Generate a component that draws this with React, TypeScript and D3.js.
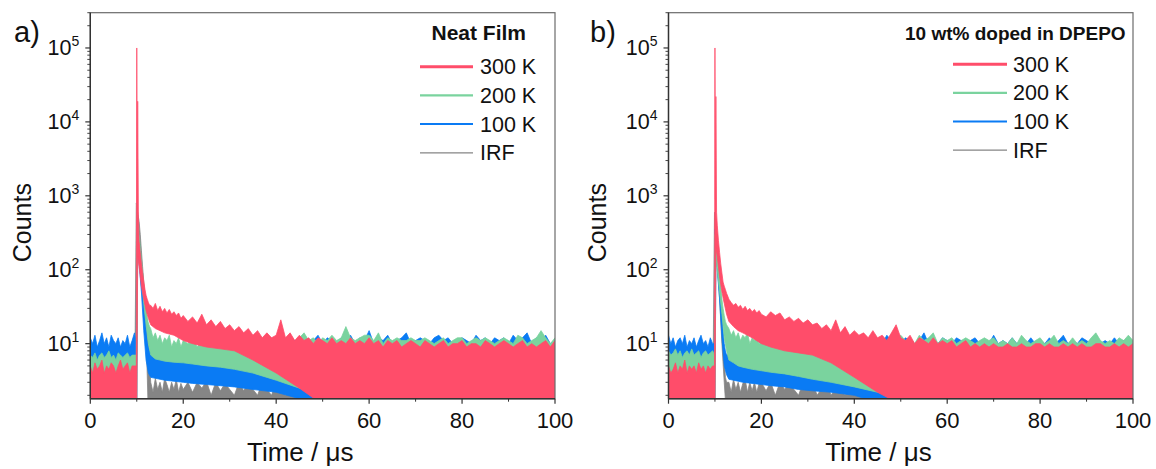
import React from 'react';
import * as d3 from 'd3';

// ---------- shared grids ----------
const T_HI = [
  0, 0.5, 1, 1.5, 2, 2.5, 3, 3.5, 4, 4.5, 5, 5.5, 6, 6.5, 7, 7.5, 8, 8.5, 9, 9.5,
  9.9, 10, 10.1, 10.2, 10.35, 10.5, 10.75, 11, 11.25, 11.5, 11.75, 12, 12.25, 12.5, 12.75,
  13, 13.5, 14, 14.5, 15, 15.5, 16, 16.5, 17, 17.5, 18, 18.5, 19, 19.5,
  20, 21, 22, 23, 24, 25, 26, 27, 28, 29,
  30, 31, 32, 33, 34, 35, 36, 37, 38, 39,
  40, 41, 42, 43, 44, 45, 46, 47, 48, 49,
  50, 51, 52, 53, 54, 55, 56, 57, 58, 59,
  60, 61, 62, 63, 64, 65, 66, 67, 68, 69,
  70, 71, 72, 73, 74, 75, 76, 77, 78, 79,
  80, 81, 82, 83, 84, 85, 86, 87, 88, 89,
  90, 91, 92, 93, 94, 95, 96, 97, 98, 99,
  100,
];
const T_LO = [0, 9.9, 10, 10.2, 10.5, 11, 11.5, 12, 12.5, 13, 14, 15, 16, 18, 20, 22, 25, 28, 31, 35, 40, 45, 50, 60, 70, 80, 90, 100];

const SERIES_NAMES = ['300 K', '200 K', '100 K', 'IRF'];
const SERIES_COLORS = ['#FF4D6A', '#7AD39E', '#0A7BF4', '#858585'];
const LEGEND_WIDTHS = [3, 2.4, 2, 1.2];
const X_TICKS = [0, 20, 40, 60, 80, 100];
const X_MINOR = [10, 30, 50, 70, 90];
const Y_MAJOR = [10, 100, 1000, 10000, 100000];
const Y_EXP = ['1', '2', '3', '4', '5'];
const Y_MINOR_MULT = [2, 3, 4, 5, 6, 7, 8, 9];
const Y_DECADES = [1, 10, 100, 1000, 10000, 100000];
const Y_DOMAIN: [number, number] = [1.8, 3e5];

// ---------- panel a) Neat Film ----------
const A_RED_HI = [
  5, 4, 5.5, 4.5, 5, 6, 4, 5, 4.5, 5.5, 5, 4, 5, 6, 4.5, 5, 5.5, 4, 5, 5,
  5, 100000, 800, 19000, 500, 240, 170, 120, 90, 70, 55, 45, 40, 36, 33,
  33, 30, 35, 28, 32, 27, 30, 26, 29, 25, 27, 24, 26, 22,
  24, 20, 23, 19, 25, 18, 21, 17, 20, 16,
  18, 15, 17, 14, 16, 13, 15, 12, 14, 12,
  13, 21, 12, 14, 11, 13, 11, 12, 10, 12,
  11, 10, 12, 10, 11, 10, 12, 10, 11, 10,
  12, 10, 11, 9, 11, 10, 11, 9, 10, 11,
  10, 9, 11, 10, 9, 10, 11, 9, 10, 10,
  11, 9, 10, 10, 9, 11, 10, 9, 10, 11,
  10, 9, 10, 11, 9, 10, 9, 10, 11, 9,
  11,
];
const A_RED_LO = [1, 1, 1, 150, 110, 60, 40, 28, 22, 18, 16, 15, 14, 13, 11, 10, 9, 8.5, 8, 6, 4, 2.5, 1.5, 1, 1, 1, 1, 1];

const A_GREEN_HI = [
  7, 6.5, 7.5, 6, 7, 7.5, 6.5, 7, 8, 6.5, 7, 6, 7.5, 7, 6.5, 7, 7.5, 6.5, 7, 7,
  7, 800, 700, 500, 400, 300, 200, 130, 90, 60, 40, 28, 22, 19, 17,
  16, 12, 14, 11, 13, 10, 12, 11, 13, 9, 11, 10, 12, 9,
  11, 10, 12, 9, 11, 10, 12, 9, 11, 10,
  9, 11, 10, 12, 10, 11, 13, 10, 12, 11,
  10, 12, 11, 13, 10, 12, 14, 11, 12, 10,
  12, 11, 13, 11, 12, 17, 12, 11, 12, 13,
  13, 11, 14, 10, 12, 11, 12, 11, 11, 12,
  11, 11, 12, 11, 10, 11, 12, 10, 11, 12,
  12, 10, 11, 12, 11, 12, 11, 10, 11, 12,
  11, 10, 13, 12, 10, 11, 12, 15, 12, 10,
  12,
];
const A_GREEN_LO = [1, 1, 1, 250, 150, 80, 35, 18, 10, 7, 6.2, 6, 5.8, 5.6, 5.5, 5.3, 5, 4.8, 4.5, 4, 3.2, 2.5, 2, 1, 1, 1, 1, 1];

const A_BLUE_HI = [
  12, 10, 13, 9, 11, 14, 10, 12, 9, 13, 11, 10, 12, 9, 11, 10, 13, 9, 11, 14,
  10, 800, 600, 450, 350, 250, 160, 100, 60, 40, 25, 16, 11, 9, 8,
  8, 7, 9, 6.5, 7.5, 8, 6, 7, 8.5, 6, 7, 6.5, 7.5, 6,
  7, 8, 6.5, 9, 7, 8, 6, 9, 7, 8,
  6.5, 8, 7, 9, 10, 12, 9, 11, 10, 12,
  9, 11, 10, 12, 11, 10, 12, 9, 11, 13,
  10, 12, 11, 10, 12, 11, 13, 10, 12, 11,
  15, 10, 12, 11, 13, 10, 11, 12, 14, 10,
  11, 12, 11, 10, 12, 13, 11, 12, 10, 11,
  12, 11, 10, 13, 11, 12, 10, 12, 11, 12,
  10, 13, 11, 12, 14, 10, 12, 11, 13, 10,
  11,
];
const A_BLUE_LO = [1, 1, 1, 200, 120, 50, 15, 6, 4, 3.5, 3.4, 3.3, 3.2, 3.1, 3, 2.9, 2.8, 2.7, 2.6, 2.4, 2.2, 1.8, 1, 1, 1, 1, 1, 1];

const A_GRAY_HI = [
  1, 1, 1, 1, 1, 1, 1, 1, 1, 1, 1, 1, 1, 1, 1, 1, 1, 1, 1, 1,
  800, 750, 650, 600, 520, 450, 300, 180, 110, 70, 42, 30, 20, 12, 6,
  3, 2.2, 3.4, 2.4, 3, 2.2, 3.4, 2.8, 2.2, 3, 2.4, 3.3, 2.2, 2.9,
  2.4, 3, 2.2, 3, 2.5, 3.1, 2, 3, 2.3, 2.9,
  2.4, 2, 3, 2.3, 2.9, 2.4, 2, 3, 2.4, 2,
  3, 2.5, 2, 2.5, 3, 2, 2.5, 2, 3, 2,
  2.5, 2, 3, 2, 2.5, 2, 2.5, 3, 2, 2.5,
  2, 2.5, 2, 3, 2, 2.5, 2, 2.5, 2, 3,
  2, 2.5, 3, 2, 2.5, 2, 2.5, 2, 3, 2,
  2.5, 2, 2.5, 3, 2, 2.5, 2, 2.5, 2, 3,
  2, 2.5, 2, 2.5, 3, 2, 2.5, 2, 2.5, 2,
  2.5,
];
const A_GRAY_LO = [1, 1, 500, 400, 250, 100, 40, 15, 1, 1, 1, 1, 1, 1, 1, 1, 1, 1, 1, 1, 1, 1, 1, 1, 1, 1, 1, 1];

// ---------- panel b) 10 wt% doped in DPEPO ----------
const B_RED_HI = [
  5, 4, 4.5, 5.5, 4, 5, 4.5, 6, 4, 5, 4.5, 5, 4, 5.5, 4.5, 5, 4, 5, 4.5, 5,
  5, 100000, 900, 22000, 600, 400, 250, 170, 120, 90, 68, 60, 54, 48, 44,
  40, 36, 33, 35, 31, 33, 29, 32, 28, 30, 27, 29, 26, 28,
  25, 23, 27, 24, 26, 21, 23, 20, 22, 19,
  21, 18, 19, 16, 18, 15, 21, 14, 17, 13,
  15, 13, 14, 12, 15, 12, 13, 11, 14, 18,
  12, 11, 13, 10, 12, 11, 10, 12, 10, 11,
  10, 11, 9, 10, 11, 9, 10, 9, 10, 9,
  10, 9, 9, 10, 9, 9, 10, 9, 9, 10,
  10, 9, 10, 9, 9, 10, 9, 10, 9, 10,
  9, 9, 10, 10, 9, 9, 10, 9, 10, 9,
  10,
];
const B_RED_LO = [1, 1, 1, 200, 150, 80, 50, 35, 25, 20, 17, 15, 14, 12, 10, 9, 8, 7.5, 7, 5.5, 3.5, 2.2, 1.5, 1, 1, 1, 1, 1];

const B_GREEN_HI = [
  8, 7, 7.5, 8.5, 7, 8, 6.5, 7.5, 8, 7, 8.5, 7, 7.5, 8, 6.5, 7.5, 8, 7, 7.5, 8,
  7, 300, 250, 220, 200, 170, 130, 90, 60, 40, 30, 24, 20, 18, 17,
  16, 13, 15, 12, 14, 11, 13, 12, 14, 10, 12, 11, 13, 10,
  12, 10, 11, 13, 9, 11, 10, 12, 9, 11,
  10, 12, 9, 11, 10, 12, 11, 10, 12, 11,
  13, 10, 12, 11, 13, 10, 12, 11, 10, 12,
  13, 11, 12, 10, 13, 11, 12, 14, 10, 12,
  11, 12, 10, 11, 12, 11, 10, 11, 12, 11,
  12, 10, 11, 10, 12, 10, 13, 11, 10, 11,
  12, 10, 11, 13, 10, 11, 10, 12, 10, 11,
  10, 12, 14, 11, 10, 11, 10, 12, 11, 13,
  11,
];
const B_GREEN_LO = [1, 1, 1, 150, 100, 50, 25, 12, 8, 6, 5.5, 5, 4.8, 4.5, 4.3, 4.1, 3.9, 3.6, 3.3, 3, 2.6, 2.2, 1.8, 1, 1, 1, 1, 1];

const B_BLUE_HI = [
  13, 10, 12, 9, 11, 12, 10, 13, 9, 11, 10, 12, 9, 11, 13, 10, 11, 9, 12, 10,
  10, 350, 330, 300, 250, 200, 140, 80, 45, 25, 15, 10, 8, 7, 7,
  8, 6.5, 7.5, 6, 8, 6.5, 7, 6, 7.5, 5.5, 7, 6, 6.5, 5.5,
  6, 7, 5.5, 8, 6.5, 7, 6, 8, 6.5, 7,
  9, 7, 10, 8, 11, 9, 12, 10, 11, 9,
  12, 11, 13, 10, 12, 11, 10, 13, 11, 12,
  10, 12, 11, 10, 11, 14, 10, 11, 10, 12,
  11, 10, 12, 11, 10, 11, 12, 10, 11, 10,
  13, 10, 11, 10, 12, 10, 11, 10, 12, 10,
  11, 10, 12, 10, 11, 13, 10, 11, 10, 12,
  11, 10, 12, 10, 11, 10, 12, 10, 11, 10,
  10,
];
const B_BLUE_LO = [1, 1, 1, 150, 100, 40, 12, 5, 3.8, 3.3, 3.2, 3.1, 3, 2.9, 2.8, 2.7, 2.6, 2.4, 2.3, 2.2, 2, 1.6, 1, 1, 1, 1, 1, 1];

const B_GRAY_HI = [
  1, 1, 1, 1, 1, 1, 1, 1, 1, 1, 1, 1, 1, 1, 1, 1, 1, 1, 1, 1,
  600, 500, 400, 300, 250, 200, 120, 70, 40, 22, 12, 6, 3.5, 3, 3,
  3, 2.2, 3.3, 2.4, 3, 2.2, 2.9, 3.3, 2.2, 3, 2.3, 3, 2.2, 2.9,
  3, 2.3, 3, 2, 3, 2.4, 3, 2.4, 2, 3,
  2.4, 3, 2, 2.5, 3, 2, 2.5, 3, 2, 2.5,
  2, 3, 2.5, 2, 2.5, 3, 2, 2.5, 2, 3,
  2.5, 2, 2.5, 3, 2, 2.5, 2, 3, 2.5, 2,
  2.5, 2, 3, 2, 2.5, 2, 2.5, 3, 2, 2.5,
  2, 3, 2, 2.5, 2, 2.5, 3, 2, 2.5, 2,
  3, 2, 2.5, 2, 2.5, 2, 3, 2.5, 2, 2.5,
  2, 2.5, 3, 2, 2.5, 2, 2.5, 2, 3, 2,
  2.5,
];
const B_GRAY_LO = [1, 1, 300, 200, 120, 40, 10, 3, 1, 1, 1, 1, 1, 1, 1, 1, 1, 1, 1, 1, 1, 1, 1, 1, 1, 1, 1, 1];

// ---------- layout ----------
const W = 1156;
const H = 469;
const PLOT_TOP = 12.7;
const PLOT_BOTTOM = 398.7;
const FONT = "'Liberation Sans', Arial, sans-serif";

type PanelCfg = {
  id: string;
  tag: string;
  tagX: number;
  left: number;
  right: number;
  countsX: number;
  title: string;
  titleX: number;
  titleSize: number;
  legLineX0: number;
  legLineX1: number;
  legTextX: number;
  legY0: number;
  legDy: number;
  hi: number[][];
  lo: number[][];
};

const PANELS: PanelCfg[] = [
  {
    id: 'a', tag: 'a)', tagX: 14, left: 90.3, right: 555, countsX: 31,
    title: 'Neat Film', titleX: 431.5, titleSize: 21,
    legLineX0: 420, legLineX1: 473, legTextX: 480, legY0: 66.7, legDy: 28.7,
    hi: [A_RED_HI, A_GREEN_HI, A_BLUE_HI, A_GRAY_HI],
    lo: [A_RED_LO, A_GREEN_LO, A_BLUE_LO, A_GRAY_LO],
  },
  {
    id: 'b', tag: 'b)', tagX: 590, left: 668.5, right: 1133, countsX: 605.5,
    title: '10 wt% doped in DPEPO', titleX: 905, titleSize: 19,
    legLineX0: 953, legLineX1: 1007, legTextX: 1013, legY0: 64.3, legDy: 28.6,
    hi: [B_RED_HI, B_GREEN_HI, B_BLUE_HI, B_GRAY_HI],
    lo: [B_RED_LO, B_GREEN_LO, B_BLUE_LO, B_GRAY_LO],
  },
];

function Panel({ cfg }: { cfg: PanelCfg }) {
  const x = d3.scaleLinear().domain([0, 100]).range([cfg.left, cfg.right]);
  const y = d3.scaleLog().domain(Y_DOMAIN).range([PLOT_BOTTOM, PLOT_TOP]);
  const line = d3.line<[number, number]>();
  const bandPath = (hi: number[], lo: number[]) => {
    const top: [number, number][] = T_HI.map((t, i) => [x(t), y(hi[i])]);
    const bottom: [number, number][] = T_LO.map((t, i) => [x(t), y(lo[i])] as [number, number]).reverse();
    return (line([...top, ...bottom]) || '') + 'Z';
  };
  const drawOrder = [3, 2, 1, 0];
  const yMinor: number[] = [];
  Y_DECADES.forEach((d) => Y_MINOR_MULT.forEach((m) => {
    const v = d * m;
    if (v >= Y_DOMAIN[0] && v <= Y_DOMAIN[1]) yMinor.push(v);
  }));
  const clipId = `clip-${cfg.id}`;
  const axisColor = '#333';
  return (
    <g>
      <defs>
        <clipPath id={clipId}>
          <rect x={cfg.left} y={PLOT_TOP} width={cfg.right - cfg.left} height={PLOT_BOTTOM - PLOT_TOP} />
        </clipPath>
      </defs>
      <g clipPath={`url(#${clipId})`}>
        {drawOrder.map((k) => (
          <path key={k} d={bandPath(cfg.hi[k], cfg.lo[k])} fill={SERIES_COLORS[k]} stroke={SERIES_COLORS[k]} strokeWidth={0.8} strokeLinejoin="round" />
        ))}
      </g>
      {/* frame */}
      <rect x={cfg.left} y={PLOT_TOP} width={cfg.right - cfg.left} height={PLOT_BOTTOM - PLOT_TOP} fill="none" stroke="#6b6b6b" strokeWidth={1.2} />
      <line x1={cfg.left} x2={cfg.left} y1={PLOT_TOP} y2={PLOT_BOTTOM} stroke={axisColor} strokeWidth={1.4} />
      <line x1={cfg.left} x2={cfg.right} y1={PLOT_BOTTOM} y2={PLOT_BOTTOM} stroke={axisColor} strokeWidth={1.4} />
      {/* x ticks */}
      {X_TICKS.map((t) => (
        <g key={`xt${t}`}>
          <line x1={x(t)} x2={x(t)} y1={PLOT_BOTTOM} y2={PLOT_BOTTOM + 5} stroke={axisColor} strokeWidth={1.2} />
          <text x={x(t)} y={427.5} textAnchor="middle" fontSize={22} fontFamily={FONT} fill="#111">{t}</text>
        </g>
      ))}
      {X_MINOR.map((t) => (
        <line key={`xm${t}`} x1={x(t)} x2={x(t)} y1={PLOT_BOTTOM} y2={PLOT_BOTTOM + 3} stroke={axisColor} strokeWidth={1} />
      ))}
      {/* y ticks */}
      {Y_MAJOR.map((v, i) => (
        <g key={`yt${v}`}>
          <line x1={cfg.left - 5} x2={cfg.left} y1={y(v)} y2={y(v)} stroke={axisColor} strokeWidth={1.2} />
          <text x={cfg.left - 11} y={y(v) + 7.5} textAnchor="end" fontSize={21.5} fontFamily={FONT} fill="#111">
            10<tspan fontSize={14} dy={-9}>{Y_EXP[i]}</tspan>
          </text>
        </g>
      ))}
      {yMinor.map((v) => (
        <line key={`ym${v}`} x1={cfg.left - 3} x2={cfg.left} y1={y(v)} y2={y(v)} stroke={axisColor} strokeWidth={0.9} />
      ))}
      {/* axis titles */}
      <text x={cfg.left + 156.7} y={461} fontSize={26} fontFamily={FONT} fill="#111">Time / μs</text>
      <text transform={`translate(${cfg.countsX},${(PLOT_TOP + PLOT_BOTTOM) / 2 + 17}) rotate(-90)`} textAnchor="middle" fontSize={25} fontFamily={FONT} fill="#111">Counts</text>
      <text x={cfg.tagX} y={42} fontSize={29} fontFamily={FONT} fill="#111">{cfg.tag}</text>
      {/* legend */}
      <text x={cfg.titleX} y={40} fontSize={cfg.titleSize} fontWeight="bold" fontFamily={FONT} fill="#111">{cfg.title}</text>
      {SERIES_NAMES.map((name, i) => {
        const ly = cfg.legY0 + i * cfg.legDy;
        return (
          <g key={name}>
            <line x1={cfg.legLineX0} x2={cfg.legLineX1} y1={ly} y2={ly} stroke={SERIES_COLORS[i]} strokeWidth={LEGEND_WIDTHS[i]} />
            <text x={cfg.legTextX} y={ly + 7.5} fontSize={21.5} fontFamily={FONT} fill="#111">{name}</text>
          </g>
        );
      })}
    </g>
  );
}

export default function App() {
  return (
    <svg width={W} height={H} style={{ position: 'absolute', left: 0, top: 0, background: '#fff' }}>
      <rect width={W} height={H} fill="#fff" />
      {PANELS.map((p) => <Panel key={p.id} cfg={p} />)}
    </svg>
  );
}
